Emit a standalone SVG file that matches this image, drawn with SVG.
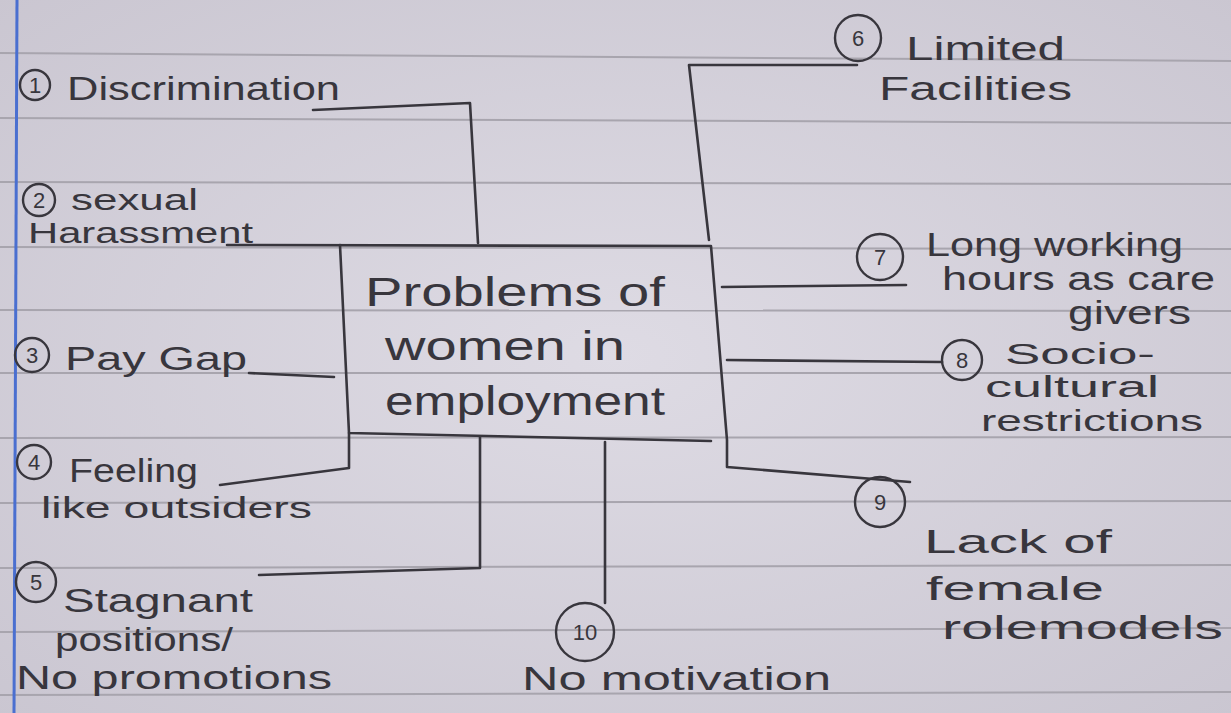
<svg xmlns="http://www.w3.org/2000/svg" width="1231" height="713" viewBox="0 0 1231 713">
<defs>
<radialGradient id="paper" cx="50%" cy="50%" r="75%">
<stop offset="0" stop-color="#dedbe4"/>
<stop offset="1" stop-color="#c9c5d0"/>
</radialGradient>
<style>
.rule{stroke:#a8a5ae;stroke-width:2;fill:none}
.ink{stroke:#38363d;stroke-width:2.6;fill:none;stroke-linecap:round;stroke-linejoin:round}
.circ{stroke:#38363d;stroke-width:2.4;fill:none}
.t{font-family:"Liberation Sans",Arial,sans-serif;fill:#38363d;font-size:34px}
.big{font-size:40px}
.s30{font-size:30px}
.num{font-family:"Liberation Sans",Arial,sans-serif;fill:#38363d;font-size:22px;text-anchor:middle}
</style>
</defs>
<rect width="1231" height="713" fill="url(#paper)"/>
<g id="paper-lines">
<path class="rule" d="M0 53 L1231 61"/>
<path class="rule" d="M0 118 L1231 123"/>
<path class="rule" d="M0 182 L1231 184"/>
<path class="rule" d="M0 247 L1231 249"/>
<path class="rule" d="M0 310 L1231 311"/>
<path class="rule" d="M0 373 L1231 373"/>
<path class="rule" d="M0 438 L1231 437"/>
<path class="rule" d="M0 503 L1231 501"/>
<path class="rule" d="M0 568 L1231 565"/>
<path class="rule" d="M0 632 L1231 628"/>
<path class="rule" d="M0 695 L1231 692"/>
<path d="M17 0 L14 713" stroke="#4a6fd0" stroke-width="3" fill="none"/>
</g>
<g id="connectors">
<path class="ink" d="M227 245 L711 246 L727 440 L727 467 L910 482"/>
<path class="ink" d="M340 245 L349 433 L711 441"/>
<path class="ink" d="M349 433 L349 468 L220 485"/>
<path class="ink" d="M313 110 L470 103 L478 243"/>
<path class="ink" d="M249 373 L334 377"/>
<path class="ink" d="M480 437 L480 568 L259 575"/>
<path class="ink" d="M605 442 L605 603"/>
<path class="ink" d="M857 65 L689 65 L709 240"/>
<path class="ink" d="M722 287 L906 285"/>
<path class="ink" d="M727 360 L942 362"/>
</g>
<g id="center">
<text class="t big" x="365" y="306" textLength="300" lengthAdjust="spacingAndGlyphs">Problems of</text>
<text class="t big" x="385" y="360" textLength="240" lengthAdjust="spacingAndGlyphs">women in</text>
<text class="t big" x="385" y="415" textLength="280" lengthAdjust="spacingAndGlyphs">employment</text>
</g>
<g id="n1">
<circle class="circ" cx="35" cy="85" r="15"/><text class="num" x="35" y="93">1</text>
<text class="t" x="67" y="100" textLength="273" lengthAdjust="spacingAndGlyphs">Discrimination</text>
</g>
<g id="n2">
<circle class="circ" cx="39" cy="200" r="16"/><text class="num" x="39" y="208">2</text>
<text class="t s30" x="71" y="210" textLength="127" lengthAdjust="spacingAndGlyphs">sexual</text>
<text class="t s30" x="28" y="243" textLength="225" lengthAdjust="spacingAndGlyphs">Harassment</text>
</g>
<g id="n3">
<circle class="circ" cx="32" cy="355" r="17"/><text class="num" x="32" y="363">3</text>
<text class="t" x="65" y="370" textLength="182" lengthAdjust="spacingAndGlyphs">Pay Gap</text>
</g>
<g id="n4">
<circle class="circ" cx="34" cy="462" r="17"/><text class="num" x="34" y="470">4</text>
<text class="t" x="69" y="482" textLength="129" lengthAdjust="spacingAndGlyphs">Feeling</text>
<text class="t s30" x="41" y="518" textLength="271" lengthAdjust="spacingAndGlyphs">like outsiders</text>
</g>
<g id="n5">
<circle class="circ" cx="36" cy="582" r="20"/><text class="num" x="36" y="590">5</text>
<text class="t" x="63" y="612" textLength="190" lengthAdjust="spacingAndGlyphs">Stagnant</text>
<text class="t" x="55" y="651" textLength="178" lengthAdjust="spacingAndGlyphs">positions/</text>
<text class="t" x="16" y="689" textLength="316" lengthAdjust="spacingAndGlyphs">No promotions</text>
</g>
<g id="n6">
<circle class="circ" cx="858" cy="38" r="23"/><text class="num" x="858" y="46">6</text>
<text class="t" x="906" y="60" textLength="159" lengthAdjust="spacingAndGlyphs">Limited</text>
<text class="t" x="879" y="100" textLength="193" lengthAdjust="spacingAndGlyphs">Facilities</text>
</g>
<g id="n7">
<circle class="circ" cx="880" cy="257" r="23"/><text class="num" x="880" y="265">7</text>
<text class="t" x="926" y="256" textLength="257" lengthAdjust="spacingAndGlyphs">Long working</text>
<text class="t" x="942" y="290" textLength="273" lengthAdjust="spacingAndGlyphs">hours as care</text>
<text class="t" x="1068" y="324" textLength="123" lengthAdjust="spacingAndGlyphs">givers</text>
</g>
<g id="n8">
<circle class="circ" cx="962" cy="360" r="20"/><text class="num" x="962" y="368">8</text>
<text class="t s30" x="1005" y="364" textLength="150" lengthAdjust="spacingAndGlyphs">Socio-</text>
<text class="t s30" x="985" y="397" textLength="174" lengthAdjust="spacingAndGlyphs">cultural</text>
<text class="t s30" x="981" y="431" textLength="222" lengthAdjust="spacingAndGlyphs">restrictions</text>
</g>
<g id="n9">
<circle class="circ" cx="880" cy="502" r="25"/><text class="num" x="880" y="510">9</text>
<text class="t" x="924" y="553" textLength="188" lengthAdjust="spacingAndGlyphs">Lack of</text>
<text class="t" x="926" y="600" textLength="178" lengthAdjust="spacingAndGlyphs">female</text>
<text class="t" x="942" y="639" textLength="281" lengthAdjust="spacingAndGlyphs">rolemodels</text>
</g>
<g id="n10">
<circle class="circ" cx="585" cy="632" r="29"/><text class="num" x="585" y="640">10</text>
<text class="t" x="522" y="690" textLength="309" lengthAdjust="spacingAndGlyphs">No motivation</text>
</g>
</svg>
